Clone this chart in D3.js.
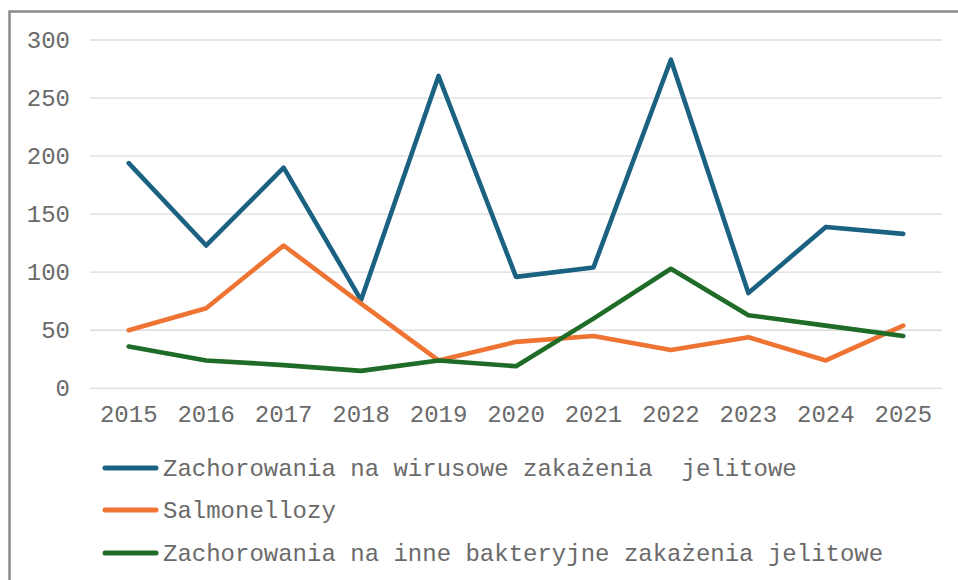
<!DOCTYPE html>
<html><head><meta charset="utf-8">
<script src="https://cdn.jsdelivr.net/npm/d3@7"></script>
<style>
html,body{margin:0;padding:0;background:#fff;overflow:hidden;}
svg{display:block;}
text{font-family:"Liberation Mono","DejaVu Sans Mono",monospace;}
</style></head>
<body>
<svg id="c" width="958" height="580"></svg>
<script>
const years = ["2015","2016","2017","2018","2019","2020","2021","2022","2023","2024","2025"];
const wirusowe = [194,123,190,76,269,96,104,283,82,139,133];
const salmonellozy = [50,69,123,73,24,40,45,33,44,24,54];
const bakteryjne = [36,24,20,15,24,19,60,103,63,54,45];
const yTicks = [0,50,100,150,200,250,300];
const seriesNames = ["Zachorowania na wirusowe zakażenia  jelitowe","Salmonellozy","Zachorowania na inne bakteryjne zakażenia jelitowe"];
const colors = ["#1b6282","#ef7434","#1e6c27"];
const seriesData = [wirusowe, salmonellozy, bakteryjne];

const svg = d3.select("#c");
// frame
svg.append("rect").attr("x",9.5).attr("y",11.5).attr("width",1000).attr("height",700)
  .attr("fill","none").attr("stroke","#8a8a8a").attr("stroke-width",2.5);

const x = d3.scaleBand().domain(years).range([90,942]);
const y = d3.scaleLinear().domain([0,300]).range([388.3,40]);

// gridlines
svg.append("g").selectAll("line").data(yTicks).join("line")
  .attr("x1",90).attr("x2",942).attr("y1",d=>y(d)).attr("y2",d=>y(d))
  .attr("stroke","#dcdcdc").attr("stroke-width",1.3);

// y labels
const yAxis = d3.axisLeft(y).tickValues(yTicks).tickSize(0).tickPadding(0);
const gy = svg.append("g").attr("transform","translate(70,0)").call(yAxis);
gy.select(".domain").remove();
gy.selectAll("text").attr("font-size",24).attr("fill","#6a6a6a")
  .attr("font-family","Liberation Mono, monospace").attr("dy","0.32em");

// x labels
const xAxis = d3.axisBottom(x).tickSize(0).tickPadding(0);
const gx = svg.append("g").attr("transform","translate(0,405)").call(xAxis);
gx.select(".domain").remove();
gx.selectAll("text").attr("font-size",24).attr("fill","#6a6a6a")
  .attr("font-family","Liberation Mono, monospace").attr("dy","0.71em");

// lines
const line = d3.line().x((d,i)=>x(years[i])+x.bandwidth()/2).y(d=>y(d));
seriesData.forEach((s,k)=>{
  svg.append("path").datum(s).attr("d",line).attr("fill","none")
    .attr("stroke",colors[k]).attr("stroke-width",4.6)
    .attr("stroke-linejoin","round").attr("stroke-linecap","round");
});

// legend
const legY = [468,510,553];
const lg = svg.append("g");
seriesNames.forEach((n,k)=>{
  lg.append("line").attr("x1",105).attr("x2",156).attr("y1",legY[k]).attr("y2",legY[k])
    .attr("stroke",colors[k]).attr("stroke-width",5).attr("stroke-linecap","round");
  lg.append("text").attr("x",163).attr("y",legY[k]).attr("dy","0.32em")
    .attr("font-size",24).attr("fill","#6a6a6a").attr("xml:space","preserve")
    .style("white-space","pre").text(n);
});
</script>
</body></html>
